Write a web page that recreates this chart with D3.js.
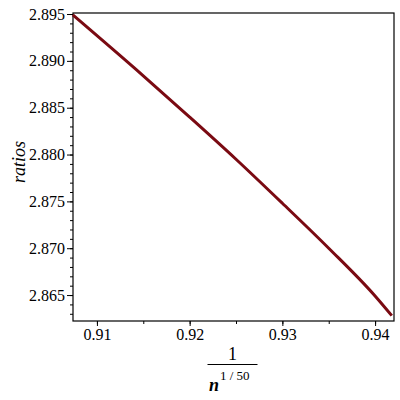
<!DOCTYPE html>
<html>
<head>
<meta charset="utf-8">
<script src="https://cdn.jsdelivr.net/npm/d3@7"></script>
<style>
  body { margin: 0; background: #fff; }
  .axis path, .axis line { stroke: #000; }
  svg text { font-family: "Times New Roman", "Liberation Serif", "DejaVu Serif", serif; }
</style>
</head>
<body>
<div id="chart"></div>
<script>
// values
var xValues = [0.9074, 0.915, 0.920, 0.925, 0.930, 0.935, 0.940, 0.9418];
var ratios  = [2.8949, 2.8884, 2.8840, 2.8795, 2.8748, 2.8700, 2.8649, 2.8628];
var xTicks = [0.91, 0.92, 0.93, 0.94];
var yTicks = [2.865, 2.870, 2.875, 2.880, 2.885, 2.890, 2.895];

var width = 400, height = 400;
var mLeft = 73, mRight = 394, mTop = 13, mBottom = 321;

var svg = d3.select("#chart").append("svg")
    .attr("width", width)
    .attr("height", height);

var x = d3.scaleLinear()
    .domain([0.90742, 0.94204])
    .range([mLeft, mRight]);

var y = d3.scaleLinear()
    .domain([2.86223, 2.89511])
    .range([mBottom, mTop]);

/* minor ticks */
var xMinor = d3.range(0.905, 0.945, 0.005).filter(function (d) { return d > 0.9074 && d < 0.942; });
var yMinor = d3.range(2.862, 2.896, 0.001).filter(function (d) { return d > 2.8622 && d < 2.8952; });

svg.append("g")
    .attr("class", "axis")
    .attr("transform", `translate(0, ${mBottom})`)
    .call(d3.axisBottom(x).tickValues(xMinor).tickSize(3).tickFormat(""))
    .select(".domain").remove();

svg.append("g")
    .attr("class", "axis")
    .attr("transform", `translate(${mLeft}, 0)`)
    .call(d3.axisLeft(y).tickValues(yMinor).tickSize(3).tickFormat(""))
    .select(".domain").remove();

/* major ticks */
var xAxis = svg.append("g")
    .attr("class", "axis")
    .attr("transform", `translate(0, ${mBottom})`)
    .call(d3.axisBottom(x).tickValues(xTicks).tickSize(5).tickPadding(3).tickFormat(d3.format(".2f")));
xAxis.select(".domain").remove();

var yAxis = svg.append("g")
    .attr("class", "axis")
    .attr("transform", `translate(${mLeft}, 0)`)
    .call(d3.axisLeft(y).tickValues(yTicks).tickSize(6).tickPadding(2).tickFormat(d3.format(".3f")));
yAxis.select(".domain").remove();

svg.selectAll(".axis text")
    .style("font-size", "16px")
    .attr("fill", "#000");

/* frame */
svg.append("rect")
    .attr("x", mLeft)
    .attr("y", mTop)
    .attr("width", mRight - mLeft)
    .attr("height", mBottom - mTop)
    .attr("fill", "none")
    .attr("stroke", "#000")
    .attr("stroke-width", 1.2);

/* the curve */
var line = d3.line()
    .x(function (d, i) { return x(xValues[i]); })
    .y(function (d) { return y(d); })
    .curve(d3.curveMonotoneX);

svg.append("path")
    .datum(ratios)
    .attr("d", line)
    .attr("fill", "none")
    .attr("stroke", "#7a0a12")
    .attr("stroke-width", 3);

/* y title */
svg.append("text")
    .attr("transform", "translate(25, 162) rotate(-90)")
    .attr("text-anchor", "middle")
    .style("font-style", "italic")
    .style("font-size", "18px")
    .text("ratios");

/* x title: 1 / n^(1/50) */
var cx = (mLeft + mRight) / 2 - 1;
var title = svg.append("g");

title.append("text")
    .attr("x", cx)
    .attr("y", 360)
    .attr("text-anchor", "middle")
    .style("font-size", "18px")
    .text("1");

title.append("line")
    .attr("x1", cx - 25)
    .attr("x2", cx + 25)
    .attr("y1", 364.5)
    .attr("y2", 364.5)
    .attr("stroke", "#000")
    .attr("stroke-width", 1);

title.append("text")
    .attr("x", 209)
    .attr("y", 391)
    .style("font-size", "18px")
    .style("font-style", "italic")
    .style("font-weight", "bold")
    .text("n");

title.append("text")
    .attr("x", 220)
    .attr("y", 380)
    .style("font-size", "13px")
    .text("1 / 50");
</script>
</body>
</html>
